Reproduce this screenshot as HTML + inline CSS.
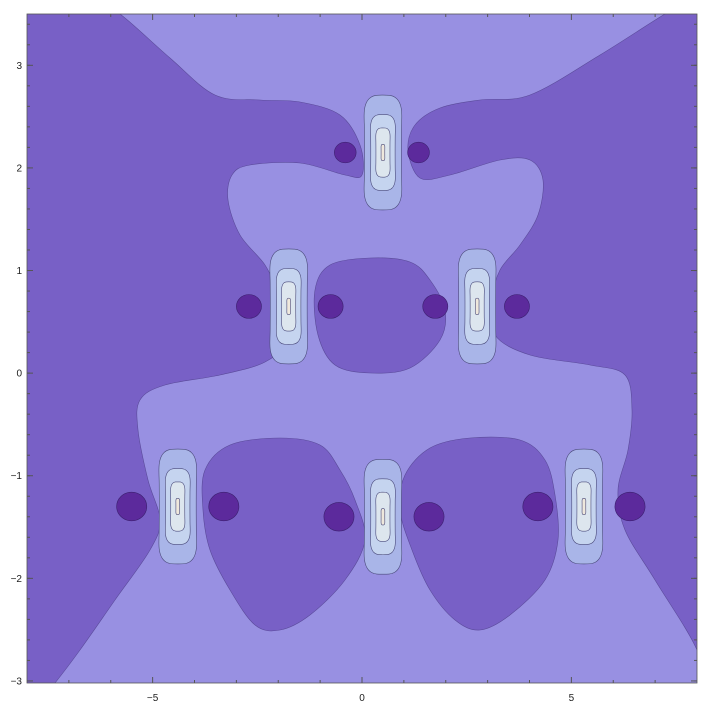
<!DOCTYPE html>
<html><head><meta charset="utf-8"><style>
html,body{margin:0;background:#fff;width:712px;height:712px;overflow:hidden}
svg{display:block;font-family:"Liberation Sans",sans-serif;overflow:hidden}
</style></head><body>
<svg id="chart" width="712" height="712" viewBox="0 0 712 712">
<defs><clipPath id="clip"><rect x="27" y="14" width="670" height="669"/></clipPath></defs>
<g id="plot" clip-path="url(#clip)"></g>
<g id="axes"></g>
</svg>
<script>
// Data
const xTicks = [-5, 0, 5];
const yTicks = [-3, -2, -1, 0, 1, 2, 3];
const peakX = [0.5, -1.75, 2.75, -4.4, 0.5, 5.3];
const peakY = [2.15, 0.65, 0.65, -1.3, -1.4, -1.3];
const dotX = [-0.4, 1.35, -2.7, -0.75, 1.75, 3.7, -5.5, -3.3, -0.55, 1.6, 4.2, 6.4];
const dotY = [2.15, 2.15, 0.65, 0.65, 0.65, 0.65, -1.3, -1.3, -1.4, -1.4, -1.3, -1.3];
const dotR = [0.26, 0.26, 0.3, 0.3, 0.3, 0.3, 0.36, 0.36, 0.36, 0.36, 0.36, 0.36];

const X0=27,X1=697,Y0=14,Y1=683;
const xmin=-8,xmax=8,ymin=-3.02,ymax=3.5;
const sx=v=>X0+(v-xmin)/(xmax-xmin)*(X1-X0);
const sy=v=>Y1-(v-ymin)/(ymax-ymin)*(Y1-Y0);
const NS='http://www.w3.org/2000/svg';
const plot=document.getElementById('plot'), axes=document.getElementById('axes');
function mk(tag,attrs,parent){const e=document.createElementNS(NS,tag);for(const k in attrs)e.setAttribute(k,attrs[k]);parent.appendChild(e);return e;}
function smooth(pts,closed){
  const n=pts.length;let d='M'+pts[0][0]+','+pts[0][1];
  const g=i=>closed?pts[(i+n)%n]:pts[Math.max(0,Math.min(n-1,i))];
  const m=closed?n:n-1;
  for(let i=0;i<m;i++){const p0=g(i-1),p1=g(i),p2=g(i+1),p3=g(i+2);
    d+=` C${p1[0]+(p2[0]-p0[0])/6},${p1[1]+(p2[1]-p0[1])/6} ${p2[0]-(p3[0]-p1[0])/6},${p2[1]-(p3[1]-p1[1])/6} ${p2[0]},${p2[1]}`;}
  return d+(closed?'Z':'');
}
let bg=mk('rect',{x:X0,y:Y0,width:X1-X0,height:Y1-Y0,fill:'#7860c6'},plot);


// light region outline (pixel geometry)
const light=[[95,2],[390,0],[690,2],[665,14],[600,55],[530,95],[480,100],[440,108],[415,125],[408,150],[420,178],[450,175],[500,160],[530,160],[543,180],[538,215],[520,245],[500,270],[492,300],[495,335],[530,355],[590,365],[625,375],[632,410],[628,450],[618,490],[625,530],[655,580],[697,650],[708,700],[380,706],[40,700],[55,683],[80,650],[115,600],[150,550],[160,520],[148,480],[138,430],[140,400],[165,385],[220,375],[265,362],[285,340],[275,290],[265,265],[240,235],[228,200],[232,175],[250,165],[300,163],[345,175],[362,175],[360,145],[340,115],[300,102],[260,100],[215,95],[170,58],[120,14]];
let lp=mk('path',{d:smooth(light,true),fill:'#9890e2',stroke:'#5a4a9a','stroke-width':0.6},plot);


const blobs=[
 [[315,290],[330,265],[370,258],[410,262],[430,280],[445,310],[440,340],[410,368],[370,373],[335,365],[318,335]],
 [[205,470],[230,445],[280,438],[320,445],[340,470],[355,500],[365,540],[345,580],[310,615],[280,630],[255,625],[230,590],[210,550],[203,510]],
 [[405,475],[430,448],[470,438],[520,440],[545,460],[555,495],[558,540],[545,580],[510,615],[480,630],[455,620],[430,590],[412,550],[400,510]]];
blobs.forEach(b=>{let p=mk('path',{d:smooth(b,true),fill:'#7860c6',stroke:'#5a4a9a','stroke-width':0.6},plot);

});
const levels=[[0.5,0.56,'#a9b5e8'],[0.33,0.37,'#c5d4ef'],[0.19,0.24,'#dde6ee'],[0.05,0.08,'#efe8dc']];
function peakShape(cx,cy,w,h){
  const pts=[];
  for(let k=0;k<48;k++){const t=k/48*2*Math.PI;
    const c=Math.cos(t),s=Math.sin(t);
    const pinch=1-0.12*Math.pow(Math.cos(t),2)*Math.exp(-Math.pow(s*2,2));
    const px=Math.sign(c)*Math.pow(Math.abs(c),0.6)*w*pinch;
    const py=Math.sign(s)*Math.pow(Math.abs(s),0.45)*h;
    pts.push([cx+px,cy+py]);}
  return smooth(pts,true);
}
peakX.forEach((px,i)=>{
  const cx=sx(px),cy=sy(peakY[i]);
  levels.forEach(l=>{
    const w=(sx(l[0])-sx(0)),h=(sy(0)-sy(l[1]));
    let r=mk('path',{d:peakShape(cx,cy,w,h),fill:l[2],stroke:'#4a4a7a','stroke-width':0.6},plot);
    
    
  });
});
dotX.forEach((dx,i)=>{
  let c=mk('ellipse',{cx:sx(dx),cy:sy(dotY[i]),rx:sx(dotR[i])-sx(0),ry:(sx(dotR[i])-sx(0))*0.95,fill:'#5c2a9c',stroke:'#3c2070','stroke-width':0.6},plot);
  
  
});
let fr=mk('rect',{x:X0,y:Y0,width:X1-X0,height:Y1-Y0,fill:'none',stroke:'#555','stroke-width':0.8},axes);


xTicks.forEach(t=>{const x=sx(t);
  mk('line',{x1:x,x2:x,y1:Y1,y2:Y1-6,stroke:'#555'},axes);mk('line',{x1:x,x2:x,y1:Y0,y2:Y0+6,stroke:'#555'},axes);
  let tx=mk('text',{x:x,y:Y1+18,'font-size':10,'text-anchor':'middle',fill:'#222'},axes);tx.textContent=t<0?'\u2212'+(-t):t;
  
  });
for(let t=-7;t<=7;t++){if(xTicks.includes(t))continue;const x=sx(t);
  mk('line',{x1:x,x2:x,y1:Y1,y2:Y1-3,stroke:'#555'},axes);mk('line',{x1:x,x2:x,y1:Y0,y2:Y0+3,stroke:'#555'},axes);}
yTicks.forEach(t=>{const y=sy(t);
  mk('line',{x1:X0,x2:X0+6,y1:y,y2:y,stroke:'#555'},axes);mk('line',{x1:X1,x2:X1-6,y1:y,y2:y,stroke:'#555'},axes);
  let tx=mk('text',{x:X0-5,y:y+3.5,'font-size':10,'text-anchor':'end',fill:'#222'},axes);tx.textContent=t<0?'\u2212'+(-t):t;
  
  });
for(let t=-3;t<=3.5;t+=0.2){const y=sy(t);
  mk('line',{x1:X0,x2:X0+3,y1:y,y2:y,stroke:'#555'},axes);mk('line',{x1:X1,x2:X1-3,y1:y,y2:y,stroke:'#555'},axes);}
</script>
</body></html>
